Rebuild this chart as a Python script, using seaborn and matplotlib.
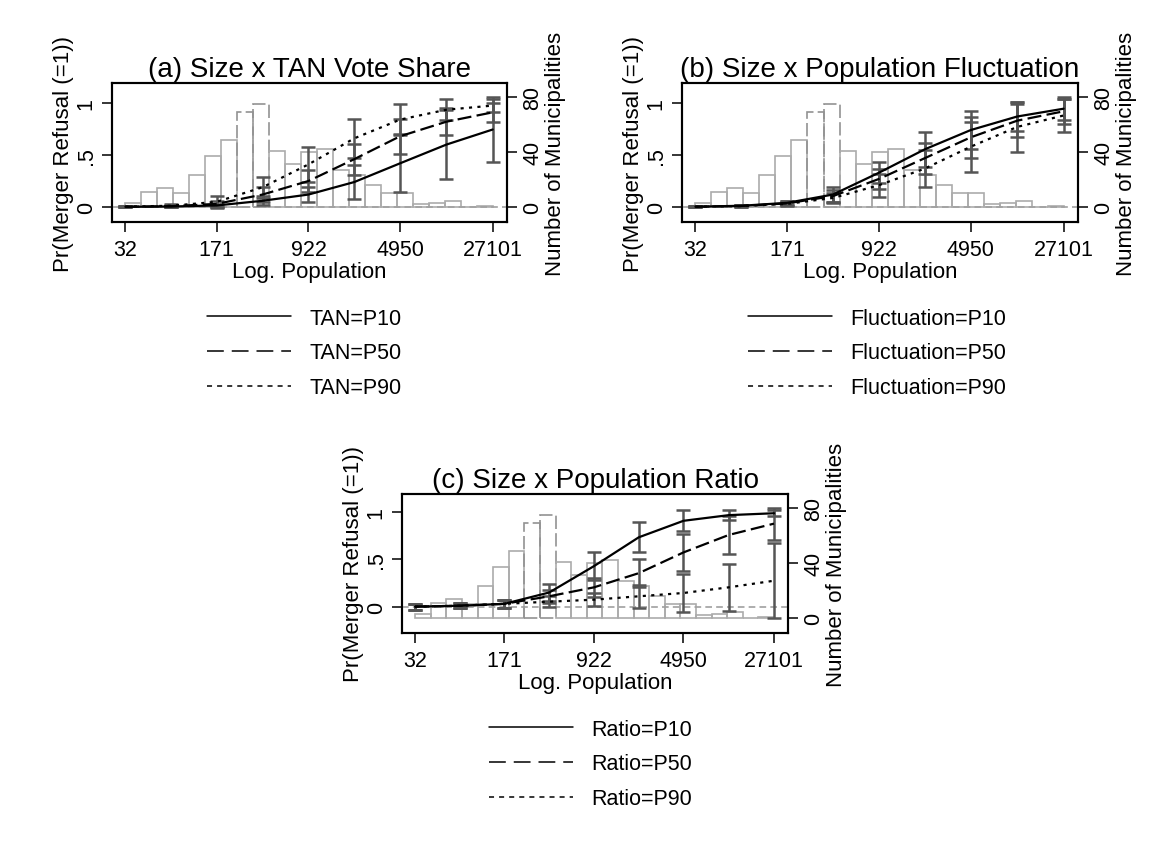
import numpy as np
import pandas as pd
import matplotlib
matplotlib.use("Agg")
import matplotlib.pyplot as plt
import seaborn as sns
from matplotlib.lines import Line2D

#----------------------------DATA------------------------

# Population at the margins (the x axis is log population)
pop_points = [32, 74, 171, 397, 922, 2136, 4950, 11583, 27101]
pop_ticks = [32, 171, 922, 4950, 27101]

# Histogram of municipalities, 23 equal bins on log population
hist_counts = [3, 11, 14, 10, 23, 37, 49, 69, 75, 41, 31, 40,
               42, 27, 23, 16, 10, 10, 2, 3, 4, 0, 1]

levels = ["P10", "P50", "P90"]

# (a) Size x TAN vote share: predicted Pr and CI half widths
a_p10 = [0.002, 0.005, 0.015, 0.06, 0.12, 0.24, 0.42, 0.60, 0.745]
a_p50 = [0.003, 0.008, 0.03, 0.12, 0.25, 0.46, 0.68, 0.82, 0.91]
a_p90 = [0.004, 0.012, 0.05, 0.19, 0.41, 0.66, 0.84, 0.935, 0.975]
a_p10_ci = [0.003, 0.006, 0.015, 0.045, 0.075, 0.165, 0.28, 0.33, 0.31]
a_p50_ci = [0.004, 0.01, 0.03, 0.07, 0.11, 0.15, 0.17, 0.13, 0.09]
a_p90_ci = [0.006, 0.015, 0.06, 0.1, 0.17, 0.19, 0.15, 0.1, 0.06]

# (b) Size x population fluctuation
b_p10 = [0.003, 0.012, 0.04, 0.12, 0.33, 0.555, 0.74, 0.87, 0.945]
b_p50 = [0.003, 0.01, 0.035, 0.105, 0.27, 0.47, 0.67, 0.83, 0.92]
b_p90 = [0.003, 0.009, 0.03, 0.087, 0.21, 0.37, 0.58, 0.77, 0.88]
b_p10_ci = [0.003, 0.006, 0.02, 0.07, 0.1, 0.17, 0.18, 0.14, 0.11]
b_p50_ci = [0.003, 0.006, 0.02, 0.06, 0.1, 0.15, 0.2, 0.16, 0.12]
b_p90_ci = [0.003, 0.006, 0.02, 0.05, 0.11, 0.18, 0.24, 0.24, 0.16]

# (c) Size x population ratio
c_p10 = [0.0, 0.01, 0.03, 0.15, 0.43, 0.735, 0.91, 0.97, 0.99]
c_p50 = [0.0, 0.01, 0.03, 0.11, 0.205, 0.355, 0.575, 0.76, 0.88]
c_p90 = [0.0, 0.01, 0.03, 0.053, 0.074, 0.11, 0.145, 0.205, 0.275]
c_p10_ci = [0.03, 0.025, 0.04, 0.09, 0.15, 0.16, 0.11, 0.05, 0.03]
c_p50_ci = [0.03, 0.025, 0.04, 0.07, 0.1, 0.15, 0.2, 0.2, 0.17]
c_p90_ci = [0.03, 0.025, 0.04, 0.06, 0.07, 0.12, 0.2, 0.25, 0.4]

#----------------------------STYLE------------------------

sns.set_theme(style="white")
plt.rcParams["font.family"] = ["Liberation Sans", "DejaVu Sans"]
plt.rcParams["text.color"] = "black"
plt.rcParams["axes.labelcolor"] = "black"
plt.rcParams["axes.titlecolor"] = "black"

W, H = 1175, 862
fig = plt.figure(figsize=(W / 100, H / 100), dpi=100)

line_dash = {"P10": "", "P50": (6.3, 2.4), "P90": (1.4, 2.4)}
legend_dash = {"P10": None, "P50": (11, 5.2), "P90": (3.3, 3.3)}

panels = [
    # title, legend prefix, estimates, cis, axes box (px), pr ylim, legend anchor (px)
    ("(a) Size x TAN Vote Share", "TAN", [a_p10, a_p50, a_p90],
     [a_p10_ci, a_p50_ci, a_p90_ci], (112, 84, 507, 223), (-0.144, 1.192), (207, 354)),
    ("(b) Size x Population Fluctuation", "Fluctuation", [b_p10, b_p50, b_p90],
     [b_p10_ci, b_p50_ci, b_p90_ci], (682, 84, 1078, 223), (-0.144, 1.192), (748, 354)),
    ("(c) Size x Population Ratio", "Ratio", [c_p10, c_p50, c_p90],
     [c_p10_ci, c_p50_ci, c_p90_ci], (402, 495, 788, 634), (-0.279, 1.194), (489, 765)),
]

x_pts = np.log(pop_points)
lo, hi = float(np.log(32)), float(np.log(27101))
step = (hi - lo) / len(hist_counts)
hist_df = pd.DataFrame({"lnpop": lo + step * (np.arange(len(hist_counts)) + 0.5),
                        "n": hist_counts})

for title, prefix, ests, cis, box, pr_lim, leg_at in panels:
    l, t, r, b = box
    ax = fig.add_axes([l / W, (H - b) / H, (r - l) / W, (b - t) / H])
    ax2 = ax.twinx()

    # histogram on the right axis
    sns.histplot(data=hist_df, x="lnpop", weights="n", bins=len(hist_counts),
                 binrange=(lo, hi), fill=False, color="#ababab",
                 linewidth=1.2, ax=ax2)
    for p in ax2.patches:
        if p.get_height() >= 60:
            p.set_linestyle((0, (8, 2.5)))
            p.set_edgecolor("#929292")
    ax2.set_ylim(-10.9, 90.1)
    ax2.set_yticks([0, 40, 80])
    ax2.set_yticklabels(["0", "40", "80"])
    ax2.set_ylabel("Number of Municipalities", fontsize=16)
    ax2.yaxis.set_label_coords(1 + 37.6 / (r - l), 0.5)

    ax.set_zorder(ax2.get_zorder() + 1)
    ax.patch.set_visible(False)

    ax.axhline(0, color="#a0a0a0", lw=1.2, dashes=(4, 2.5), zorder=1)

    rows = []
    for lev, est, ci in zip(levels, ests, cis):
        ax.errorbar(x_pts, est, yerr=ci, fmt="none", ecolor="#555555",
                    elinewidth=1.8, capsize=5, capthick=1.8, zorder=2)
        rows.append(pd.DataFrame({"lnpop": x_pts, "pr": est, "level": lev}))
    df = pd.concat(rows)

    sns.lineplot(data=df, x="lnpop", y="pr", style="level", dashes=line_dash,
                 color="black", linewidth=1.6, legend=False, errorbar=None,
                 ax=ax, zorder=3)

    ax.set_xlim(3.22, 10.47)
    ax.set_ylim(*pr_lim)
    ax.set_xticks(np.log(pop_ticks))
    ax.set_xticklabels([str(p) for p in pop_ticks])
    ax.set_yticks([0, 0.5, 1])
    ax.set_yticklabels(["0", ".5", "1"])

    ax.set_title(title, fontsize=20, pad=5, color="black")
    ax.set_xlabel("Log. Population", fontsize=16, labelpad=1)
    ax.set_ylabel("Pr(Merger Refusal (=1))", fontsize=16)
    ax.yaxis.set_label_coords(-37.6 / (r - l), 0.5)

    for a in (ax, ax2):
        a.tick_params(direction="out", length=7, width=1.1, labelsize=15.5,
                      colors="black", pad=3)
        a.tick_params(axis="y", labelrotation=90)
        for s in a.spines.values():
            s.set_color("black")
            s.set_linewidth(1.5)
    ax.tick_params(axis="x", bottom=True, pad=5)
    ax.tick_params(axis="y", left=True, pad=4)
    ax2.tick_params(axis="y", right=True, pad=4)
    plt.setp(ax.get_yticklabels(), va="center")
    plt.setp(ax2.get_yticklabels(), va="center")

    handles = [Line2D([], [], color="black", lw=1.1) if legend_dash[lev] is None
               else Line2D([], [], color="black", lw=1.1, dashes=legend_dash[lev])
               for lev in levels]
    labels = [f"{prefix}={lev}" for lev in levels]
    fig.legend(handles, labels, loc="center left",
               bbox_to_anchor=(leg_at[0] / W, (H - leg_at[1]) / H),
               frameon=False, fontsize=15.5, handlelength=3.9,
               handletextpad=0.85, labelspacing=0.64, borderpad=0,
               borderaxespad=0, labelcolor="black")

fig.savefig("out.png", dpi=100)
